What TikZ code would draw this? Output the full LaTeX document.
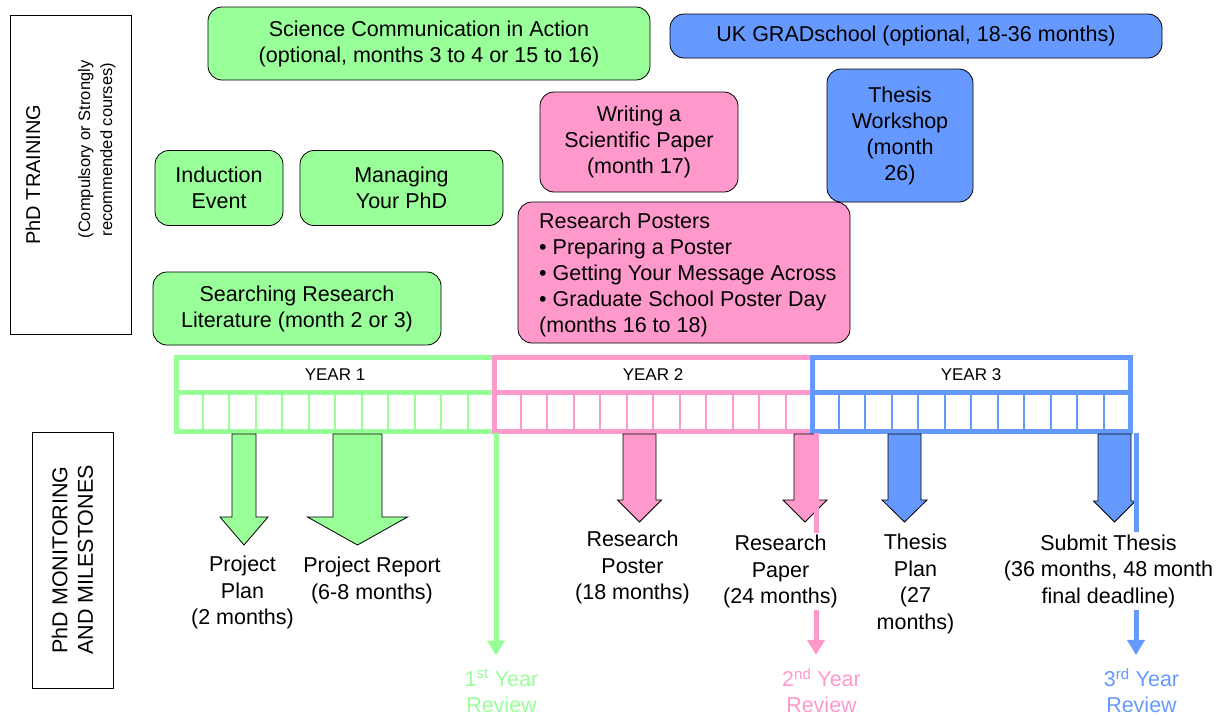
\documentclass[tikz,border=0pt]{standalone}
\usepackage{fontspec}
\setmainfont{Liberation Sans}
\usetikzlibrary{arrows.meta}

\definecolor{yrone}{HTML}{99FF99}
\definecolor{yrtwo}{HTML}{FF99CC}
\definecolor{yrthree}{HTML}{6699FF}

% block arrow under the timeline: x, half shaft, half head, y of head, y of tip, colour
\newcommand{\msarrow}[6]{%
 \filldraw[fill=#6, draw=black, line width=0.8pt]
 (#1-#2,434) -- (#1-#2,#4) -- (#1-#3,#4) -- (#1,#5) -- (#1+#3,#4) -- (#1+#2,#4) -- (#1+#2,434) -- cycle;}

\begin{document}
\begin{tikzpicture}[x=1pt, y=-1pt,
 course/.style={draw, line width=0.8pt, rounded corners=14pt, align=center, inner sep=0pt, font=\fontsize{21.5}{26}\selectfont},
 sidebox/.style={draw, line width=0.8pt, rotate=90, align=center, inner sep=0pt},
 mstext/.style={align=center, fill=white, inner sep=2pt, font=\fontsize{21.5}{26.5}\selectfont},
 reviewtext/.style={align=center, inner sep=0pt, font=\fontsize{21.5}{26}\selectfont},
 review/.style={line width=5pt, -{Triangle[width=17pt,length=15pt]}, shorten >=13pt},
 yeartext/.style={font=\fontsize{17}{20}\selectfont}]
\useasboundingbox (0,0) rectangle (1223,715);

% side headings
\node[sidebox, minimum width=319pt, minimum height=121pt, font=\fontsize{16.5}{22}\selectfont] (training) at (70.5,174.5)
 {{\fontsize{20}{22}\selectfont PhD TRAINING}\\[28pt]\hspace*{50pt}(Compulsory or Strongly\\\hspace*{50pt}recommended courses)};
\node[sidebox, minimum width=256pt, minimum height=81pt, font=\fontsize{21.5}{25.5}\selectfont] (monitoring) at (72.5,560)
 {PhD MONITORING\\AND MILESTONES};

% courses
\node[course, fill=yrone, minimum width=442pt, minimum height=73pt] (scicomm) at (429,43.5)
 {Science Communication in Action\\(optional, months 3 to 4 or 15 to 16)};
\node[course, fill=yrthree, minimum width=492pt, minimum height=44pt] (gradschool) at (916,36)
 {UK GRADschool (optional, 18-36 months)};
\node[course, fill=yrtwo, minimum width=198pt, minimum height=100pt] (writing) at (639,142)
 {Writing a\\Scientific Paper\\(month 17)};
\node[course, fill=yrthree, minimum width=146pt, minimum height=133pt] (workshop) at (900,135.5)
 {Thesis\\Workshop\\(month\\26)};
\node[course, fill=yrone, minimum width=128pt, minimum height=75pt] (induction) at (219,188)
 {Induction\\Event};
\node[course, fill=yrone, minimum width=203pt, minimum height=75pt] (managing) at (401.5,188)
 {Managing\\Your PhD};
\node[course, fill=yrtwo, minimum width=332pt, minimum height=141pt] (posters) at (684,272.5) {};
\node[anchor=west, align=left, inner sep=0pt, font=\fontsize{21.5}{26}\selectfont] (posterlist) at (539,275)
 {Research Posters\\\textbullet\ Preparing a Poster\\\textbullet\ Getting Your Message Across\\\textbullet\ Graduate School Poster Day\\(months 16 to 18)};
\node[course, fill=yrone, minimum width=288pt, minimum height=73pt] (searching) at (297,308.5)
 {Searching Research\\Literature (month 2 or 3)};

% timeline, twelve months a year
\foreach \n/\col [evaluate=\n as \xo using 176+318*(\n-1)] in {1/yrone,2/yrtwo,3/yrthree}{
 \draw[\col, line width=2pt] \foreach \m in {1,...,11}{(\xo+26.5*\m,392) -- (\xo+26.5*\m,431)};
 \draw[\col, line width=5pt] (\xo,357) rectangle (\xo+318,431)
  (\xo,392) -- (\xo+318,392);
 \node[yeartext] (year\n) at (\xo+159,374.5) {YEAR \n};
}

% milestones
\msarrow{244}{12}{24}{517}{545}{yrone}
\msarrow{357.5}{24.5}{50}{517}{545}{yrone}
\msarrow{639.5}{16.5}{22}{500}{522}{yrtwo}
\msarrow{805}{11}{22}{500}{522}{yrtwo}
\msarrow{904.5}{16.5}{22.5}{500}{522}{yrthree}
\msarrow{1114.5}{16.5}{21}{501}{522}{yrthree}

% reviews
\node[reviewtext, text=yrone] (review1) at (501.5,690.5) {1\textsuperscript{st} Year\\Review};
\node[reviewtext, text=yrtwo] (review2) at (821.5,690.5) {2\textsuperscript{nd} Year\\Review};
\node[reviewtext, text=yrthree] (review3) at (1141.5,690.5) {3\textsuperscript{rd} Year\\Review};
\coordinate (rev1top) at (496,433);
\coordinate (rev2top) at (816,433);
\coordinate (rev3top) at (1136,433);
\draw[review, yrone] (rev1top) -- (rev1top |- review1.north);
\draw[review, yrtwo] (rev2top) -- (rev2top |- review2.north);
\draw[review, yrthree] (rev3top) -- (rev3top |- review3.north);

\node[mstext] (plan) at (242.5,592.5) {Project\\Plan\\(2 months)};
\node[mstext] (report) at (372,580.5) {Project Report\\(6-8 months)};
\node[mstext] (poster) at (632.5,567.5) {Research\\Poster\\(18 months)};
\node[mstext] (paper) at (780.5,571.5) {Research\\Paper\\(24 months)};
\node[mstext] (thesisplan) at (915.5,584) {Thesis\\Plan\\(27\\months)};
\node[mstext] (submit) at (1108.5,571) {Submit Thesis\\(36 months, 48 month\\final deadline)};
\end{tikzpicture}
\end{document}
